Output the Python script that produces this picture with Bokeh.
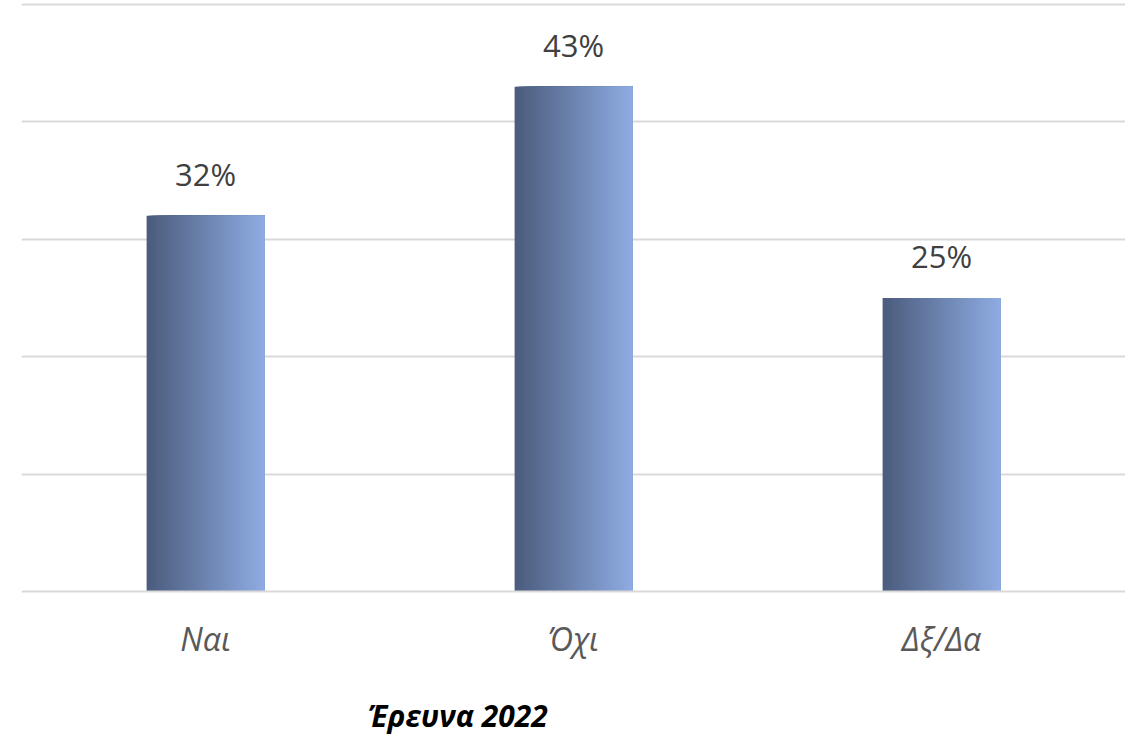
from bokeh.plotting import figure
from bokeh.models import ColumnDataSource, FactorRange, Range1d, Span
from bokeh.transform import dodge
from bokeh.core.properties import value
from bokeh.embed import file_html
from bokeh.resources import INLINE

categories = ["Ναι", "Όχι", "Δξ/Δα"]
values = [0.32, 0.43, 0.25]
labels = ["32%", "43%", "25%"]
title_text = "Έρευνα 2022"

src = ColumnDataSource(dict(cat=categories, val=values, lab=labels))

# frame fills the whole height; 0 sits at y=591px and 0.5 at y=4px
px = 0.5 / 587.0
y_end = 0.5 + 4 * px
y_start = -(739 - 591) * px

p = figure(x_range=FactorRange(*categories, range_padding=0), y_range=Range1d(y_start, y_end),
           width=1125, height=739, output_backend="svg", toolbar_location=None,
           min_border_left=21, min_border_right=0, min_border_top=0, min_border_bottom=0)
p.outline_line_color = None
p.background_fill_color = "white"
p.xaxis.visible = False
p.yaxis.visible = False

p.xgrid.grid_line_color = None
p.ygrid.grid_line_color = "#d9d9d9"
p.ygrid.grid_line_width = 2
p.ygrid.ticker = [0.1, 0.2, 0.3, 0.4, 0.5]
p.add_layout(Span(location=0, dimension="width", line_color="#d9d9d9", line_width=2))

# gradient bars: overlapping strips, each extending to the bar's right edge
bar_w = 0.32
n = 60
c0 = (75, 92, 125)
c1 = (142, 171, 226)
for i in range(n):
    t = i / (n - 1)
    col = "#%02x%02x%02x" % tuple(int(round(a + (b - a) * t)) for a, b in zip(c0, c1))
    left = -bar_w / 2 + i * bar_w / n
    right = bar_w / 2
    p.vbar(x=dodge("cat", (left + right) / 2, range=p.x_range), bottom=0, top="val",
           width=right - left, source=src, fill_color=col, line_color=None)

# value labels
p.text(x="cat", y="val", text="lab", source=src, text_align="center",
       text_baseline="alphabetic", y_offset=-42, text_font=value("Open Sans"),
       text_font_size="31px", text_color="#404040")

# category labels
p.text(x="cat", y=-47 * px, text="cat", source=src, text_align="center",
       text_baseline="middle", text_font=value("Open Sans"), text_font_style="italic",
       text_font_size="32px", text_color="#595959")

# title below
tsrc = ColumnDataSource(dict(cat=["Όχι"], t=[title_text]))
p.text(x=dodge("cat", -0.314, range=p.x_range), y=-124 * px, text="t", source=tsrc,
       text_align="center", text_baseline="middle", text_font=value("Open Sans"),
       text_font_style="bold italic", text_font_size="30px", text_color="#000000")

open("out.html", "w").write(file_html(p, INLINE))
